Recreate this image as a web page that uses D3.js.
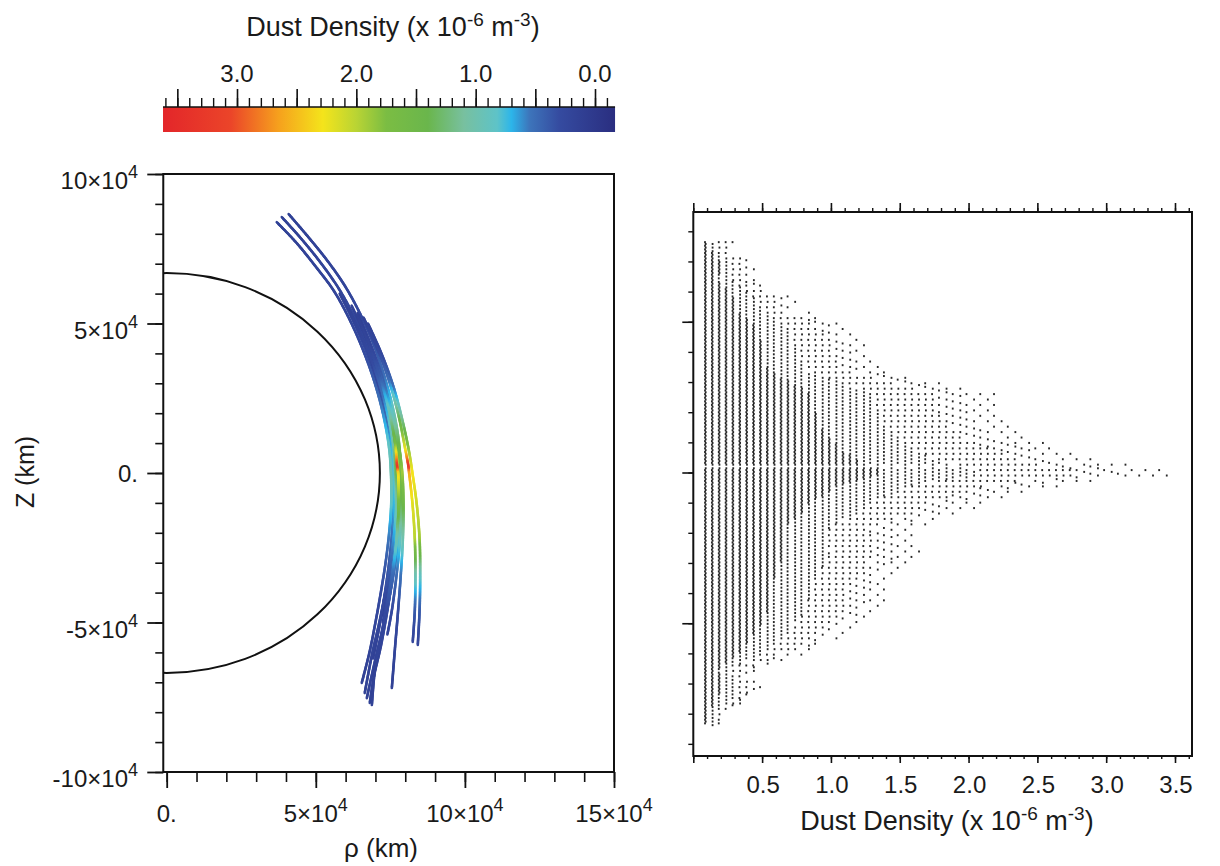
<!DOCTYPE html>
<html><head><meta charset="utf-8">
<script src="https://cdn.jsdelivr.net/npm/d3@7"></script>
<style>
body{margin:0;background:#fff}
svg{display:block}
text{font-family:"Liberation Sans",Arial,Helvetica,sans-serif;fill:#1a1a1a}
</style>
</head><body>
<svg id="c" width="1220" height="866"></svg>
<script>
// ---------------- DATA ----------------
// colour map of the density bar (value in 1e-6 m^-3 -> colour)
const colorStops = [3.62, 3.05, 2.65, 2.28, 2.0, 1.75, 1.4, 1.1, 0.82, 0.7, 0.55, 0.3, -0.17];
const colorHex   = ["#e3262a","#eb4529","#f6a11d","#f4e41b","#b9d434","#7bbd43","#6ab64c","#78c09f","#5ec3c8","#2cb5ea","#3d75bb","#354ba0","#2a2e80"];
const colorbarMajor = [0, 0.5, 1, 1.5, 2, 2.5, 3, 3.5];
const colorbarMinor = [-0.1,0,0.1,0.2,0.3,0.4,0.5,0.6,0.7,0.8,0.9,1,1.1,1.2,1.3,1.4,1.5,1.6,1.7,1.8,1.9,2,2.1,2.2,2.3,2.4,2.5,2.6,2.7,2.8,2.9,3,3.1,3.2,3.3,3.4,3.5,3.6];
const colorbarLabels = [3.0, 2.0, 1.0, 0.0];

// left panel axes (km in units of 1e3 km)
const leftXMajor = [0, 50, 100, 150];
const leftXMinor = [0,10,20,30,40,50,60,70,80,90,100,110,120,130,140,150];
const leftYMajor = [-100, -50, 0, 50, 100];
const leftYMinor = [-100,-90,-80,-70,-60,-50,-40,-30,-20,-10,0,10,20,30,40,50,60,70,80,90,100];
const leftXLabels = [["0.",""],["5×10","4"],["10×10","4"],["15×10","4"]];
const leftYLabels = [["-10×10","4"],["-5×10","4"],["0.",""],["5×10","4"],["10×10","4"]];

// planet outline: equatorial and polar radius (1e3 km)
const planetRadii = [71.492, 66.854];

// dust trajectories: [rho (1e3 km), Z (1e3 km), density (1e-6 m^-3)]
const trajectories = [
 [[58,60,0.15],[62.5,51,0.2],[66.8,41,0.3],[70.5,30,0.25],[73.5,18,0.5],[75.5,6,0.75],[76,-4,0.8],[75.8,-16,0.6],[74.8,-28,0.4],[73.2,-40,0.25],[71.2,-52,0.18],[69.2,-62,0.15]],
 [[60,57,0.15],[64.5,48,0.25],[68.5,38,0.2],[72,27,0.35],[74.8,15,0.6],[76.4,3,0.9],[76.6,-8,0.8],[76,-20,0.55],[74.8,-32,0.35],[73.4,-42,0.22],[72,-48,0.18]],
 [[36.9,83.9,0.15],[43.5,77,0.15],[50,69,0.18],[56,61,0.2],[61,52,0.22],[65.5,42,0.28],[69.5,31,0.4],[72.5,20,0.6],[74.5,9,0.85],[75.2,0,1.0],[75.3,-10,0.85],[74.6,-20,0.6],[73.4,-30,0.4],[71.8,-40,0.3],[70,-50,0.22],[68,-60,0.18],[65.4,-70.2,0.15]],
 [[38.6,85.6,0.15],[45,78.5,0.15],[51.5,70.5,0.18],[57.5,62,0.2],[62.5,53,0.25],[67,43,0.3],[71,32,0.45],[74,21,0.7],[76,10,1.0],[76.8,0,1.3],[77,-10,1.0],[76.3,-20,0.7],[75,-30,0.45],[73.3,-40,0.3],[71.3,-50,0.22],[69,-60,0.18],[66.4,-73.6,0.15]],
 [[61,55,0.15],[65.2,46,0.2],[69.3,36,0.3],[72.8,25,0.55],[75.4,13,0.95],[77,1,1.4],[77.4,-10,1.1],[76.8,-22,0.7],[75.3,-34,0.4],[73.5,-44,0.25],[72.5,-50,0.2]],
 [[40.9,86.6,0.15],[47,79.5,0.15],[53.5,71.5,0.18],[59.5,63,0.2],[64.5,54,0.25],[69,44,0.32],[72.8,33,0.5],[75.8,22,0.85],[77.8,11,1.3],[78.6,0,1.6],[78.7,-10,1.3],[78,-20,0.9],[76.7,-30,0.55],[75,-40,0.35],[73,-50,0.25],[70.5,-60,0.2],[67.1,-75.3,0.15]],
 [[64,53.5,0.15],[68,44,0.22],[72,33,0.4],[75.2,21,0.8],[77.5,9,1.4],[78.5,0,1.7],[78.8,-10,1.4],[78.3,-22,0.9],[77.1,-34,0.5],[75.5,-46,0.28],[74,-54,0.2]],
 [[65,51,0.15],[69,41,0.25],[72.8,30,0.45],[75.8,19,0.9],[78,8,1.5],[79,0,1.9],[79.4,-10,1.5],[79.2,-22,1.0],[78.5,-34,0.55],[77.6,-46,0.3],[76.6,-58,0.2],[75.5,-71.9,0.15]],
 [[62,56,0.15],[66,47,0.2],[70,37,0.35],[73.5,26,0.6],[76,14,1.2],[77.5,2,2.0],[77.8,-10,1.5],[77.2,-22,0.9],[75.8,-34,0.5],[74,-46,0.3],[71.8,-58,0.2],[69.5,-68,0.16],[68.1,-76.9,0.15]],
 [[67.5,50,0.15],[72,40,0.25],[76,29,0.5],[79.2,17,1.2],[81.3,7,1.9],[82.4,0,2.3],[83.8,-10,2.1],[84.8,-22,1.9],[85,-34,0.9],[84.8,-46,0.4],[84.2,-57.5,0.22]],
 [[66,52,0.15],[70.5,42,0.25],[74.5,31,0.5],[77.8,19,1.3],[80,8,2.2],[81.1,2,3.3],[81.3,0,2.6],[82.4,-10,2.2],[83.2,-22,2.0],[83.4,-34,1.0],[83.2,-46,0.4],[82.5,-56.5,0.22]],
 [[63.8,52.8,0.15],[67.8,43,0.22],[71.5,32,0.4],[74.5,21,0.9],[76.6,10,1.6],[77.3,2,3.3],[77.6,0,2.4],[77.8,-10,1.7],[77.1,-22,1.0],[75.6,-34,0.5],[73.5,-46,0.28],[71.2,-58,0.2],[69.8,-66,0.16],[68.8,-77.6,0.15]]
];

// right panel: envelope of the scatter (Z in 1e4 km, max density 1e-6 m^-3)
const scatterEnvZ   = [7.64,7.38,6.95,6.38,5.79,5.39,4.89,4.23,3.40,3.13,2.60,2.07,1.58,1.08,0.68,0.35,0.08,-0.12,-0.25,-0.45,-0.75,-1.08,-1.58,-1.91,-2.74,-3.73,-4.56,-5.39,-6.12,-6.55,-7.21,-7.78,-8.41];
const scatterEnvMax = [0.30,0.30,0.48,0.45,0.73,0.80,1.10,1.25,1.35,1.64,2.20,2.20,2.30,2.50,2.75,3.00,3.45,3.45,3.00,2.65,2.35,2.10,1.80,1.60,1.65,1.42,1.37,1.10,0.75,0.45,0.53,0.33,0.20];
const scatterDensityLevels = {start:0.085, step:0.05, end:3.46};
const scatterZStep = 0.06;
const scatterGapZ = [0.18, 0.26];
const scatterFillSpacing = [1,1,1,1,2,2,3,3,4,6];

const rightXMajor = [0,0.5,1,1.5,2,2.5,3,3.5];
const rightXMinor = [0,0.1,0.2,0.3,0.4,0.5,0.6,0.7,0.8,0.9,1,1.1,1.2,1.3,1.4,1.5,1.6,1.7,1.8,1.9,2,2.1,2.2,2.3,2.4,2.5,2.6,2.7,2.8,2.9,3,3.1,3.2,3.3,3.4,3.5,3.6];
const rightXLabels = ["0.5","1.0","1.5","2.0","2.5","3.0","3.5"];
const rightYMajor = [-5,0,5];
const rightYMinor = [-9,-8,-7,-6,-5,-4,-3,-2,-1,0,1,2,3,4,5,6,7,8];

// ---------------- DRAW ----------------
const svg = d3.select("#c");
const color = d3.scaleLinear().domain(colorStops).range(colorHex).clamp(true);

function supText(g, x, y, anchor, base, sup, size, supSize, raise){
  const t = g.append("text").attr("x", x).attr("y", y).attr("text-anchor", anchor).style("font-size", size+"px");
  t.append("tspan").text(base);
  if (sup) t.append("tspan").attr("dy", -raise).style("font-size", supSize+"px").text(sup);
  return t;
}
function titleText(g, x, y, size){
  const t = g.append("text").attr("text-anchor","middle").attr("x", x).attr("y", y).style("font-size", size+"px");
  t.append("tspan").text("Dust Density (x 10");
  t.append("tspan").attr("dy",-10).style("font-size","19px").text("-6");
  t.append("tspan").attr("dy",10).text(" m");
  t.append("tspan").attr("dy",-10).style("font-size","19px").text("-3");
  t.append("tspan").attr("dy",10).text(")");
  return t;
}
function styleAxis(g, w){
  g.select(".domain").remove();
  g.selectAll(".tick line").attr("stroke","#111").attr("stroke-width", w);
}

// ---- colour bar ----
const cbX = d3.scaleLinear().domain([0,3]).range([595,237]);
const cbLeft = cbX(3.62), cbRight = cbX(-0.168), cbTop = 107, cbH = 25;
const defs = svg.append("defs");
const grad = defs.append("linearGradient").attr("id","cbgrad").attr("x1","0%").attr("x2","100%");
colorStops.forEach((v,i)=>{
  grad.append("stop").attr("offset", ((cbX(v)-cbLeft)/(cbRight-cbLeft)*100)+"%").attr("stop-color", colorHex[i]);
});
svg.append("rect").attr("x",cbLeft).attr("y",cbTop).attr("width",cbRight-cbLeft).attr("height",cbH).attr("fill","url(#cbgrad)");
const cbg = svg.append("g");
cbg.append("g").attr("transform",`translate(0,${cbTop})`).call(d3.axisTop(cbX).tickValues(colorbarMinor).tickSize(9).tickFormat("")).call(styleAxis,1.4);
cbg.append("g").attr("transform",`translate(0,${cbTop})`).call(d3.axisTop(cbX).tickValues(colorbarMajor).tickSize(18).tickFormat("")).call(styleAxis,1.6);
cbg.append("line").attr("x1",cbLeft).attr("x2",cbRight).attr("y1",cbTop).attr("y2",cbTop).attr("stroke","#111").attr("stroke-width",1.6);
colorbarLabels.forEach(v=>{
  cbg.append("text").attr("x",cbX(v)).attr("y",82).attr("text-anchor","middle").style("font-size","24px").text(v.toFixed(1));
});
titleText(svg, 393, 36, 27);

// ---- left panel ----
const xL = d3.scaleLinear().domain([0,150]).range([166.7,614]);
const yL = d3.scaleLinear().domain([-100,100]).range([772,174]);
const L = {l: xL(-1.15), r: xL(150), t: yL(100), b: yL(-100)};
defs.append("clipPath").attr("id","clipL").append("rect").attr("x",L.l).attr("y",L.t).attr("width",L.r-L.l).attr("height",L.b-L.t);
const gL = svg.append("g");
gL.append("ellipse").attr("cx",xL(0)).attr("cy",yL(0))
  .attr("rx", xL(planetRadii[0])-xL(0)).attr("ry", yL(0)-yL(planetRadii[1]))
  .attr("fill","none").attr("stroke","#111").attr("stroke-width",2).attr("clip-path","url(#clipL)");

// trajectories coloured by density
const lineGen = d3.line().x(p=>xL(p[0])).y(p=>yL(p[1])).curve(d3.curveCatmullRom.alpha(0.5));
const gT = gL.append("g").attr("clip-path","url(#clipL)");
const tmp = svg.append("path").attr("fill","none").attr("stroke","none");
trajectories.forEach(tr=>{
  tmp.attr("d", lineGen(tr));
  const node = tmp.node();
  const len = node.getTotalLength();
  const dens = d3.scaleLinear().domain(tr.map(p=>p[1])).range(tr.map(p=>p[2]));
  const n = Math.ceil(len/1.5);
  let prev = node.getPointAtLength(0);
  for (let i=1;i<=n;i++){
    const p = node.getPointAtLength(Math.min(len, i*len/n));
    const z = yL.invert((prev.y+p.y)/2);
    gT.append("line").attr("x1",prev.x).attr("y1",prev.y).attr("x2",p.x).attr("y2",p.y)
      .attr("stroke", color(dens(z))).attr("stroke-width",2.6).attr("stroke-linecap","round");
    prev = p;
  }
});
tmp.remove();

gL.append("rect").attr("x",L.l).attr("y",L.t).attr("width",L.r-L.l).attr("height",L.b-L.t).attr("fill","none").attr("stroke","#111").attr("stroke-width",2);
gL.append("g").attr("transform",`translate(0,${L.b})`).call(d3.axisBottom(xL).tickValues(leftXMinor).tickSize(10).tickFormat("")).call(styleAxis,1.6);
gL.append("g").attr("transform",`translate(0,${L.b})`).call(d3.axisBottom(xL).tickValues(leftXMajor).tickSize(16).tickFormat("")).call(styleAxis,1.8);
gL.append("g").attr("transform",`translate(${L.l},0)`).call(d3.axisLeft(yL).tickValues(leftYMinor).tickSize(8).tickFormat("")).call(styleAxis,1.6);
gL.append("g").attr("transform",`translate(${L.l},0)`).call(d3.axisLeft(yL).tickValues(leftYMajor).tickSize(16).tickFormat("")).call(styleAxis,1.8);
leftXMajor.forEach((v,i)=>{
  supText(gL, xL(v), 822, "middle", leftXLabels[i][0], leftXLabels[i][1], 24, 18, 11);
});
leftYMajor.forEach((v,i)=>{
  const s = leftYLabels[i][1];
  supText(gL, 138, yL(v)+(s?15:9), "end", leftYLabels[i][0], s, 24, 18, 11);
});
gL.append("text").attr("x",381).attr("y",857).attr("text-anchor","middle").style("font-size","26px").text("ρ (km)");
gL.append("text").attr("transform","translate(34,472) rotate(-90)").attr("text-anchor","middle").style("font-size","25px").text("Z (km)");

// ---- right panel ----
const xR = d3.scaleLinear().domain([0,3.5]).range([693.3,1175]);
const yR = d3.scaleLinear().domain([0,5]).range([472.5,321.75]);
const R = {l: 693.3, r: 1192, t: 212, b: 756};
const gR = svg.append("g");
const env = d3.scaleLinear().domain(scatterEnvZ).range(scatterEnvMax);
const pts = [];
const zTop = scatterEnvZ[0], zBot = scatterEnvZ[scatterEnvZ.length-1];
for (let k=0; ; k++){
  const d = scatterDensityLevels.start + k*scatterDensityLevels.step;
  if (d > scatterDensityLevels.end) break;
  let j = 0;
  for (let z=zTop; z>=zBot; z-=scatterZStep, j++){
    const dm = env(z);
    if (d > dm) continue;
    if (z>scatterGapZ[0] && z<scatterGapZ[1] && d<2.2) continue;
    const m = scatterFillSpacing[Math.min(9, Math.floor(d/dm*10))];
    if ((j + k*3) % m !== 0) continue;
    pts.push([d,z,j]);
  }
}
gR.append("g").selectAll("rect").data(pts).join("rect")
  .attr("x",p=>xR(p[0])-0.9+(p[2]%2)*0.7).attr("y",p=>yR(p[1])-1).attr("width",1.8).attr("height",2)
  .attr("fill","#151515").attr("fill-opacity",0.92);
gR.append("rect").attr("x",R.l).attr("y",R.t).attr("width",R.r-R.l).attr("height",R.b-R.t).attr("fill","none").attr("stroke","#111").attr("stroke-width",2);
gR.append("g").attr("transform",`translate(0,${R.t})`).call(d3.axisTop(xR).tickValues(rightXMinor).tickSize(4).tickFormat("")).call(styleAxis,1.4);
gR.append("g").attr("transform",`translate(0,${R.t})`).call(d3.axisTop(xR).tickValues(rightXMajor).tickSize(9).tickFormat("")).call(styleAxis,1.6);
gR.append("g").attr("transform",`translate(0,${R.b})`).call(d3.axisBottom(xR).tickValues(rightXMinor).tickSize(3).tickFormat("")).call(styleAxis,1.4);
gR.append("g").attr("transform",`translate(0,${R.b})`).call(d3.axisBottom(xR).tickValues(rightXMajor).tickSize(7).tickFormat("")).call(styleAxis,1.6);
gR.append("g").attr("transform",`translate(${R.l},0)`).call(d3.axisLeft(yR).tickValues(rightYMinor).tickSize(5).tickFormat("")).call(styleAxis,1.4);
gR.append("g").attr("transform",`translate(${R.l},0)`).call(d3.axisLeft(yR).tickValues(rightYMajor).tickSize(11).tickFormat("")).call(styleAxis,1.6);
rightXMajor.slice(1).forEach((v,i)=>{
  gR.append("text").attr("x",xR(v)+1).attr("y",793).attr("text-anchor","middle").style("font-size","24px").text(rightXLabels[i]);
});
titleText(gR, 947, 830, 27);
</script>
</body></html>
